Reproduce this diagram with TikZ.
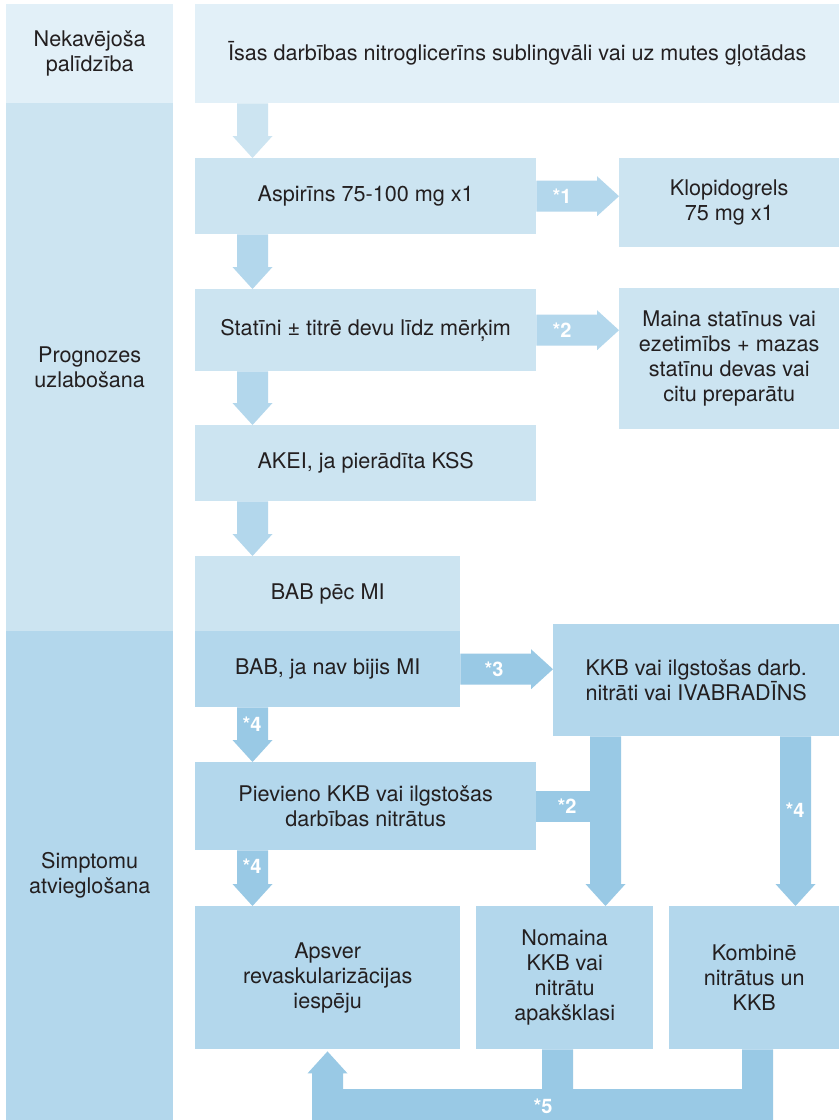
\documentclass[tikz,border=0pt]{standalone}
\usepackage{fontspec}
\setmainfont{TeX Gyre Heros}
\usetikzlibrary{calc}
\definecolor{cA}{HTML}{E2F0F8}
\definecolor{cB}{HTML}{CCE4F1}
\definecolor{cC}{HTML}{B3D7EC}
\definecolor{cD}{HTML}{99C9E5}
\definecolor{txt}{HTML}{231F20}
\tikzset{
  box/.style={draw=none, inner sep=0pt, anchor=north west, align=center, text=txt,
    font=\fontsize{21.6}{25}\selectfont},
  lbl/.style={text=white, inner sep=0pt, font=\bfseries\fontsize{20}{24}\selectfont},
}
% down block arrow: x-centre, from node, to node, colour
\newcommand\darr[4]{%
  \fill[#4] let \p1=(#2.south), \p2=(#3.north) in
    (#1-15.5,\y1) -- (#1+15.5,\y1) -- (#1+15.5,\y2+22pt) -- (#1+20,\y2+22pt)
    -- (#1,\y2) -- (#1-20,\y2+22pt) -- (#1-15.5,\y2+22pt) -- cycle;}
% right block arrow: from node, to node, colour
\newcommand\rarr[3]{%
  \fill[#3] let \p1=(#1.east), \p2=(#2.west) in
    (\x1,\y1+15.5pt) -- (\x2-22pt,\y1+15.5pt) -- (\x2-22pt,\y1+20pt) -- (\x2,\y1)
    -- (\x2-22pt,\y1-20pt) -- (\x2-22pt,\y1-15.5pt) -- (\x1,\y1-15.5pt) -- cycle;}
\begin{document}
\begin{tikzpicture}[x=1pt,y=1pt]
\useasboundingbox (0,0) rectangle (839,-1120);
\fill[white] (0,0) rectangle (839,-1120);

% left column bands
\node[box, fill=cA, minimum width=167pt, minimum height=99pt] (band1) at (6,-4) {Nekavējoša\\palīdzība};
\node[box, fill=cB, minimum width=167pt, minimum height=528pt] (band2) at (6,-103) {Prognozes\\uzlabošana};
\node[box, fill=cC, minimum width=167pt, minimum height=489pt] (band3) at (6,-631) {Simptomu\\atvieglošana};

% boxes
\node[box, fill=cA, minimum width=644pt, minimum height=99pt] (nitro) at (195,-4) {Īsas darbības nitroglicerīns sublingvāli vai uz mutes gļotādas};
\node[box, fill=cB, minimum width=341pt, minimum height=76pt] (asp) at (195,-158) {Aspirīns 75-100 mg x1};
\node[box, fill=cB, minimum width=220pt, minimum height=89pt] (klop) at (619,-158) {Klopidogrels\\75 mg x1};
\node[box, fill=cB, minimum width=341pt, minimum height=82pt] (stat) at (195,-289) {Statīni ± titrē devu līdz mērķim};
\node[box, fill=cB, minimum width=220pt, minimum height=141pt] (maina) at (619,-288) {Maina statīnus vai\\ezetimībs + mazas\\statīnu devas vai\\citu preparātu};
\node[box, fill=cB, minimum width=341pt, minimum height=76pt] (akei) at (195,-425) {AKEI, ja pierādīta KSS};
\node[box, fill=cB, minimum width=265pt, minimum height=75pt] (babmi) at (195,-556) {BAB pēc MI};
\node[box, fill=cC, minimum width=265pt, minimum height=76pt] (babn) at (195,-631) {BAB, ja nav bijis MI};
\node[box, fill=cC, minimum width=286pt, minimum height=112pt] (kkb) at (553,-624) {KKB vai ilgstošas darb.\\nitrāti vai IVABRADĪNS};
\node[box, fill=cC, minimum width=341pt, minimum height=88pt] (piev) at (195,-762) {Pievieno KKB vai ilgstošas\\darbības nitrātus};
\node[box, fill=cC, minimum width=265pt, minimum height=143pt] (apsv) at (195,-906) {Apsver\\revaskularizācijas\\iespēju};
\node[box, fill=cC, minimum width=177pt, minimum height=143pt] (nom) at (476,-906) {Nomaina\\KKB vai\\nitrātu\\apakšklasi};
\node[box, fill=cC, minimum width=170pt, minimum height=143pt] (komb) at (669,-906) {Kombinē\\nitrātus un\\KKB};

% vertical arrows
\darr{252.5}{nitro}{asp}{cB}
\darr{252.5}{asp}{stat}{cC}
\darr{252.5}{stat}{akei}{cC}
\darr{252.5}{akei}{babmi}{cC}
\darr{252.5}{babn}{piev}{cD}
\darr{252.5}{piev}{apsv}{cD}
\darr{605.5}{kkb}{nom}{cD}
\darr{795.5}{kkb}{komb}{cD}

% horizontal arrows
\rarr{asp}{klop}{cC}
\rarr{stat}{maina}{cC}
\rarr{babn}{kkb}{cD}

% branch from piev into the kkb -> nom arrow
\coordinate (join) at (591,-806);
\fill[cD] let \p1=(piev.east), \p2=(join) in (\x1,\y1+15.5pt) rectangle (\x2,\y1-15.5pt);

% return arrow *5
\fill[cD] let \p1=(apsv.south), \p2=(nom.south), \p3=(komb.south) in
  (312,-1120) -- (773,-1120) -- (773,\y3) -- (742,\y3) -- (742,-1089)
  -- (573,-1089) -- (573,\y2) -- (542,\y2) -- (542,-1089) -- (343,-1089)
  -- (343,\y1-24pt) -- (347.5,\y1-24pt) -- (327.5,\y1-2pt) -- (307.5,\y1-24pt)
  -- (312,\y1-24pt) -- cycle;

% labels
\node[lbl] (l1) at (562,-196) {*1};
\node[lbl] (l2) at (562,-330) {*2};
\node[lbl] (l3) at (494,-669) {*3};
\node[lbl] (l4a) at (252,-724) {*4};
\node[lbl] (l4b) at (252,-866) {*4};
\node[lbl] (l2b) at (567,-806) {*2};
\node[lbl] (l4c) at (795,-810) {*4};
\node[lbl] (l5) at (543,-1106) {*5};
\end{tikzpicture}
\end{document}
